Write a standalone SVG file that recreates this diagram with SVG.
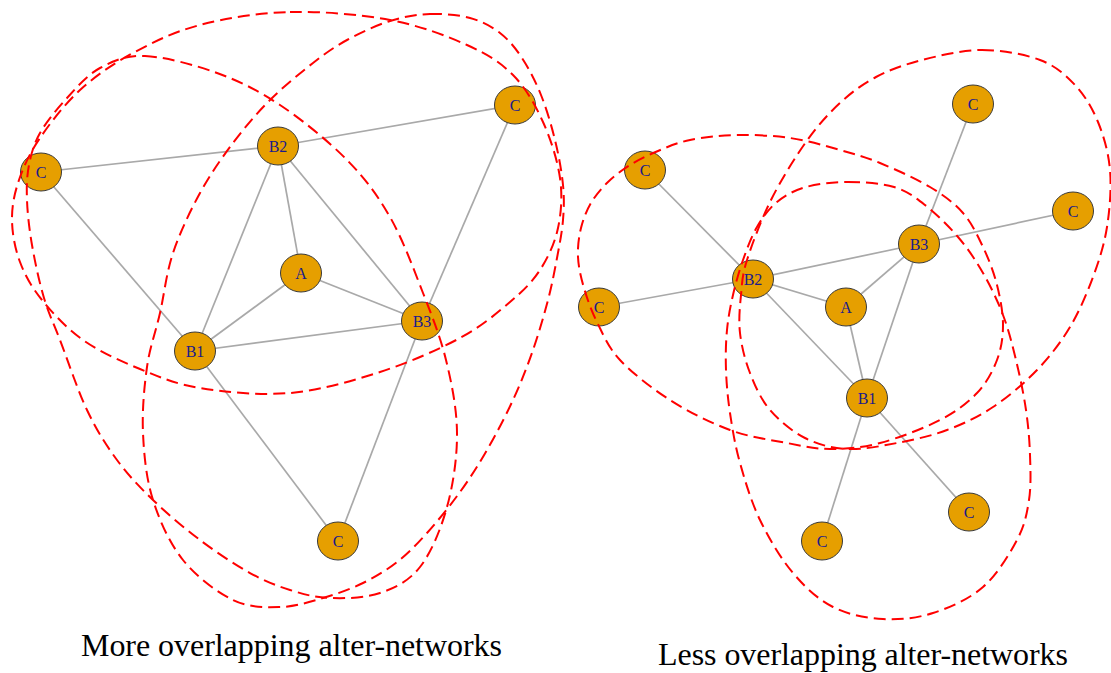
<svg xmlns="http://www.w3.org/2000/svg" width="1111" height="673" viewBox="0 0 1111 673">
<style>
.edge{stroke:#a9a9a9;stroke-width:1.7;fill:none}
.node ellipse{fill:#e69f00;stroke:#3a3a3a;stroke-width:1}
.node text{font-family:"Liberation Serif","Times New Roman",serif;font-size:16px;fill:#1a1a8c;text-anchor:middle}
.hull{fill:none;stroke:#ff0000;stroke-width:2;stroke-dasharray:12 6}
.caption{font-family:"Liberation Serif","Times New Roman",serif;font-size:32px;fill:#000}
</style>
<rect width="1111" height="673" fill="#fff"/>
<g id="connectors">
<line class="edge" x1="41" y1="172" x2="278" y2="146"/>
<line class="edge" x1="41" y1="172" x2="195" y2="351"/>
<line class="edge" x1="278" y1="146" x2="515" y2="105"/>
<line class="edge" x1="278" y1="146" x2="195" y2="351"/>
<line class="edge" x1="278" y1="146" x2="301" y2="273"/>
<line class="edge" x1="278" y1="146" x2="422" y2="321"/>
<line class="edge" x1="301" y1="273" x2="195" y2="351"/>
<line class="edge" x1="301" y1="273" x2="422" y2="321"/>
<line class="edge" x1="195" y1="351" x2="422" y2="321"/>
<line class="edge" x1="515" y1="105" x2="422" y2="321"/>
<line class="edge" x1="195" y1="351" x2="338" y2="541"/>
<line class="edge" x1="422" y1="321" x2="338" y2="541"/>
<line class="edge" x1="645" y1="170" x2="753" y2="279"/>
<line class="edge" x1="599" y1="307" x2="753" y2="279"/>
<line class="edge" x1="753" y1="279" x2="919" y2="244"/>
<line class="edge" x1="753" y1="279" x2="846" y2="307"/>
<line class="edge" x1="753" y1="279" x2="867" y2="398"/>
<line class="edge" x1="846" y1="307" x2="919" y2="244"/>
<line class="edge" x1="846" y1="307" x2="867" y2="398"/>
<line class="edge" x1="919" y1="244" x2="973" y2="104"/>
<line class="edge" x1="919" y1="244" x2="1073" y2="211"/>
<line class="edge" x1="919" y1="244" x2="867" y2="398"/>
<line class="edge" x1="867" y1="398" x2="822" y2="541"/>
<line class="edge" x1="867" y1="398" x2="969" y2="512"/>
</g>
<g id="L-C1" class="node"><ellipse cx="41" cy="172" rx="20.5" ry="19"/><text x="41" y="178">C</text></g>
<g id="L-B2" class="node"><ellipse cx="278" cy="146" rx="20.5" ry="19"/><text x="278" y="152">B2</text></g>
<g id="L-C2" class="node"><ellipse cx="515" cy="105" rx="20.5" ry="19"/><text x="515" y="111">C</text></g>
<g id="L-A" class="node"><ellipse cx="301" cy="273" rx="20.5" ry="19"/><text x="301" y="279">A</text></g>
<g id="L-B3" class="node"><ellipse cx="422" cy="321" rx="20.5" ry="19"/><text x="422" y="327">B3</text></g>
<g id="L-B1" class="node"><ellipse cx="195" cy="351" rx="20.5" ry="19"/><text x="195" y="357">B1</text></g>
<g id="L-C3" class="node"><ellipse cx="338" cy="541" rx="20.5" ry="19"/><text x="338" y="547">C</text></g>
<g id="R-C1" class="node"><ellipse cx="645" cy="170" rx="20.5" ry="19"/><text x="645" y="176">C</text></g>
<g id="R-C2" class="node"><ellipse cx="599" cy="307" rx="20.5" ry="19"/><text x="599" y="313">C</text></g>
<g id="R-B2" class="node"><ellipse cx="753" cy="279" rx="20.5" ry="19"/><text x="753" y="285">B2</text></g>
<g id="R-A" class="node"><ellipse cx="846" cy="307" rx="20.5" ry="19"/><text x="846" y="313">A</text></g>
<g id="R-B3" class="node"><ellipse cx="919" cy="244" rx="20.5" ry="19"/><text x="919" y="250">B3</text></g>
<g id="R-C3" class="node"><ellipse cx="973" cy="104" rx="20.5" ry="19"/><text x="973" y="110">C</text></g>
<g id="R-C4" class="node"><ellipse cx="1073" cy="211" rx="20.5" ry="19"/><text x="1073" y="217">C</text></g>
<g id="R-B1" class="node"><ellipse cx="867" cy="398" rx="20.5" ry="19"/><text x="867" y="404">B1</text></g>
<g id="R-C5" class="node"><ellipse cx="969" cy="512" rx="20.5" ry="19"/><text x="969" y="518">C</text></g>
<g id="R-C6" class="node"><ellipse cx="822" cy="541" rx="20.5" ry="19"/><text x="822" y="547">C</text></g>
<g id="alter-networks">
<path id="L-hull-B2" class="hull" d="M290,12 C321.7,11.2 360.5,14.5 390,20 C419.5,25.5 446.5,35.8 467,45 C487.5,54.2 500.3,62.2 513,75 C525.7,87.8 535.2,104.8 543,122 C550.8,139.2 557.5,160.3 560,178 C562.5,195.7 561.3,212.7 558,228 C554.7,243.3 548,257.7 540,270 C532,282.3 523.3,290.7 510,302 C496.7,313.3 481.7,326.3 460,338 C438.3,349.7 408.3,362.8 380,372 C351.7,381.2 320,390.3 290,393 C260,395.7 225,392 200,388 C175,384 159.5,377 140,369 C120.5,361 99.3,351.5 83,340 C66.7,328.5 52.5,313 42,300 C31.5,287 25,275.3 20,262 C15,248.7 12.2,233.7 12,220 C11.8,206.3 14.3,193.7 19,180 C23.7,166.3 29.8,153 40,138 C50.2,123 64.5,104.2 80,90 C95.5,75.8 113,63.8 133,53 C153,42.2 173.8,31.8 200,25 C226.2,18.2 258.3,12.8 290,12 Z"/>
<path id="L-hull-B1" class="hull" d="M145,56 C164.5,56.8 194.5,64.8 217,73 C239.5,81.2 258.3,90.5 280,105 C301.7,119.5 328.7,141.3 347,160 C365.3,178.7 377.3,194.8 390,217 C402.7,239.2 413.7,269.2 423,293 C432.3,316.8 440.3,336.7 446,360 C451.7,383.3 456.8,408.5 457,433 C457.2,457.5 453.2,484.7 447,507 C440.8,529.3 431.2,552.7 420,567 C408.8,581.3 395,587.8 380,593 C365,598.2 345,598.5 330,598 C315,597.5 303.3,594.2 290,590 C276.7,585.8 265,581.3 250,573 C235,564.7 216.2,552.2 200,540 C183.8,527.8 166.8,513.3 153,500 C139.2,486.7 128,475 117,460 C106,445 96.5,430 87,410 C77.5,390 67.2,358.7 60,340 C52.8,321.3 48.7,313.8 44,298 C39.3,282.2 34.8,261.3 32,245 C29.2,228.7 27.5,213.3 27,200 C26.5,186.7 26.8,176.2 29,165 C31.2,153.8 33.7,144.2 40,133 C46.3,121.8 57,108.8 67,98 C77,87.2 87,75 100,68 C113,61 125.5,55.2 145,56 Z"/>
<path id="L-hull-B3" class="hull" d="M430,14 C443.3,13.5 458.3,14.8 470,18 C481.7,21.2 491.3,26.3 500,33 C508.7,39.7 515.2,47.7 522,58 C528.8,68.3 535.5,81.3 541,95 C546.5,108.7 551.3,125 555,140 C558.7,155 561.7,171.7 563,185 C564.3,198.3 564,207.8 563,220 C562,232.2 559.5,244.7 557,258 C554.5,271.3 552,284.7 548,300 C544,315.3 538.8,333.3 533,350 C527.2,366.7 520.7,383.3 513,400 C505.3,416.7 495.8,434.7 487,450 C478.2,465.3 470,478.2 460,492 C450,505.8 437.5,521.3 427,533 C416.5,544.7 407.7,553.7 397,562 C386.3,570.3 375.3,577 363,583 C350.7,589 336.8,594 323,598 C309.2,602 295,606.7 280,607 C265,607.3 249.2,607.8 233,600 C216.8,592.2 196.3,576.7 183,560 C169.7,543.3 159.7,521.2 153,500 C146.3,478.8 144,455.2 143,433 C142,410.8 144.2,387 147,367 C149.8,347 155.7,332 160,313 C164.3,294 166.3,273 173,253 C179.7,233 190,211.3 200,193 C210,174.7 221.3,158.5 233,143 C244.7,127.5 256.7,113.3 270,100 C283.3,86.7 300.2,73 313,63 C325.8,53 334.2,47 347,40 C359.8,33 376.2,25.3 390,21 C403.8,16.7 416.7,14.5 430,14 Z"/>
<path id="R-hull-B2" class="hull" d="M737,135 C753.7,134.7 772.8,135.5 790,138 C807.2,140.5 825,145.8 840,150 C855,154.2 865,156.8 880,163 C895,169.2 916.2,178.7 930,187 C943.8,195.3 954.2,203 963,213 C971.8,223 977.3,235 983,247 C988.7,259 993.7,272 997,285 C1000.3,298 1003,312.5 1003,325 C1003,337.5 1001.3,348.7 997,360 C992.7,371.3 986.5,383 977,393 C967.5,403 956.2,411.7 940,420 C923.8,428.3 898.3,438.2 880,443 C861.7,447.8 845.5,449 830,449 C814.5,449 803.7,446.2 787,443 C770.3,439.8 749.5,437.2 730,430 C710.5,422.8 688.3,411.7 670,400 C651.7,388.3 632.2,373 620,360 C607.8,347 603,334 597,322 C591,310 587.2,298.8 584,288 C580.8,277.2 578.5,267 578,257 C577.5,247 578.8,237 581,228 C583.2,219 586.5,210.7 591,203 C595.5,195.3 601.5,188.3 608,182 C614.5,175.7 621.7,170.2 630,165 C638.3,159.8 648,155.2 658,151 C668,146.8 676.8,142.7 690,140 C703.2,137.3 720.3,135.3 737,135 Z"/>
<path id="R-hull-B1" class="hull" d="M848,182 C862.7,182 881.2,183.2 894,187 C906.8,190.8 914.3,196.7 925,205 C935.7,213.3 948.3,225.7 958,237 C967.7,248.3 975.5,260 983,273 C990.5,286 997.5,300.5 1003,315 C1008.5,329.5 1012.2,344.2 1016,360 C1019.8,375.8 1023.7,394.2 1026,410 C1028.3,425.8 1029.5,440 1030,455 C1030.5,470 1031.2,485.8 1029,500 C1026.8,514.2 1024.7,525.5 1017,540 C1009.3,554.5 997,574.8 983,587 C969,599.2 949.7,607.7 933,613 C916.3,618.3 899.7,620 883,619 C866.3,618 848,614.7 833,607 C818,599.3 805.2,587.5 793,573 C780.8,558.5 768.8,538.3 760,520 C751.2,501.7 745,480.8 740,463 C735,445.2 732.3,428.5 730,413 C727.7,397.5 726.5,383.8 726,370 C725.5,356.2 725.8,342.5 727,330 C728.2,317.5 730.3,306.7 733,295 C735.7,283.3 739,271.3 743,260 C747,248.7 751.3,236.7 757,227 C762.7,217.3 768.8,208.7 777,202 C785.2,195.3 794.2,190.3 806,187 C817.8,183.7 833.3,182 848,182 Z"/>
<path id="R-hull-B3" class="hull" d="M982,50 C1001.7,50 1024.5,54.2 1040,60 C1055.5,65.8 1065.3,74.7 1075,85 C1084.7,95.3 1092.2,107.8 1098,122 C1103.8,136.2 1108.5,152.5 1110,170 C1111.5,187.5 1109.8,209.2 1107,227 C1104.2,244.8 1099.2,260.3 1093,277 C1086.8,293.7 1079.3,311.5 1070,327 C1060.7,342.5 1049.8,356.7 1037,370 C1024.2,383.3 1008,397 993,407 C978,417 963,424 947,430 C931,436 913.7,439.8 897,443 C880.3,446.2 862.3,449.8 847,449 C831.7,448.2 817.8,444.5 805,438 C792.2,431.5 779.2,420.8 770,410 C760.8,399.2 755,385.8 750,373 C745,360.2 741.5,346 740,333 C738.5,320 739.8,307.2 741,295 C742.2,282.8 742,275.8 747,260 C752,244.2 761.2,219.7 771,200 C780.8,180.3 794.5,158.2 806,142 C817.5,125.8 828.3,113.8 840,103 C851.7,92.2 862.3,84.2 876,77 C889.7,69.8 904.3,64.5 922,60 C939.7,55.5 962.3,50 982,50 Z"/>
</g>
<text class="caption" x="81" y="656" textLength="421">More overlapping alter-networks</text>
<text class="caption" x="658" y="665" textLength="410">Less overlapping alter-networks</text>
</svg>
